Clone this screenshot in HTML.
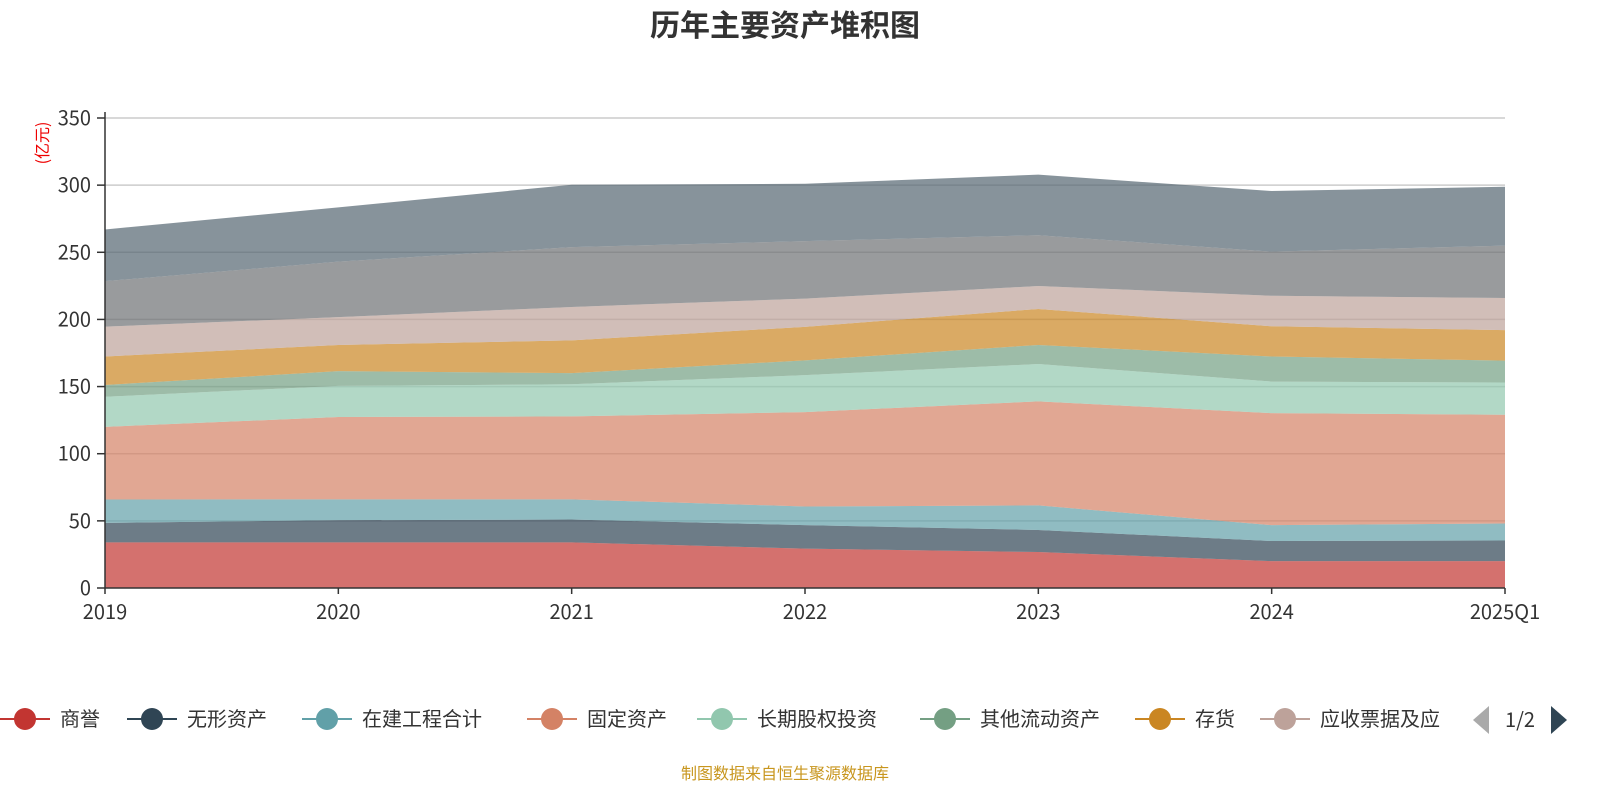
<!DOCTYPE html>
<html><head><meta charset="utf-8"><style>
body{margin:0;background:#fff;width:1600px;height:800px;overflow:hidden;font-family:"Liberation Sans","Noto Sans CJK SC",sans-serif;}
svg text{font-family:"Noto Sans CJK SC","Liberation Sans",sans-serif;}
</style></head><body>
<svg id="chart" width="1600" height="800" xmlns="http://www.w3.org/2000/svg">
<text x="785" y="36" text-anchor="middle" font-size="30" font-weight="bold" fill="#333">历年主要资产堆积图</text>
<text transform="translate(48,143) rotate(-90)" text-anchor="middle" font-size="16" fill="#e00">(亿元)</text>
<g id="grid"></g><g id="areas"></g><g id="axes"></g><g id="legend"></g>
<text x="785" y="779" text-anchor="middle" font-size="16" fill="#c8961e">制图数据来自恒生聚源数据库</text>
</svg>
<script>
const categories=["2019","2020","2021","2022","2023","2024","2025Q1"];
const seriesNames=["商誉","无形资产","在建工程合计","固定资产","长期股权投资","其他流动资产","存货","应收票据及应收账款","货币资金","其他资产"];
const s1=[34,34,34,29.3,26.8,20,20];
const s2=[14.5,16.5,17,17.5,16.4,15,15.4];
const s3=[17.4,15.5,15,13.9,18.3,11.8,12.6];
const s4=[54.1,61.3,61.8,70.3,77.5,83.4,81];
const s5=[22.4,23.2,23.9,27.5,27.8,23.5,24];
const s6=[8.8,11,8.3,11,14.2,18.7,16.3];
const s7=[21.2,19.5,24.4,25,26.8,22.5,22.7];
const s8=[22.2,20.7,24.9,21,17.1,22.7,24];
const s9=[33.9,41.3,44.5,42.8,37.8,32.9,39];
const s10=[38.5,40.4,46.5,42.7,45.1,45.1,43.8];
const yTicks=[0,50,100,150,200,250,300,350];
const series=[s1,s2,s3,s4,s5,s6,s7,s8,s9,s10];
const colors=["#c23531","#2f4554","#61a0a8","#d48265","#91c7ae","#749f83","#ca8622","#bda29a","#6e7074","#546570"];
const NS="http://www.w3.org/2000/svg";
const X0=105,X1=1505,Y0=588,YMAX=350,PH=470;
const xs=i=>X0+i*(X1-X0)/(categories.length-1);
const ys=v=>Y0-v/YMAX*PH;
function mk(t,a,p){const e=document.createElementNS(NS,t);for(const k in a)e.setAttribute(k,a[k]);p.appendChild(e);return e;}
const grid=document.getElementById('grid'),areas=document.getElementById('areas'),axes=document.getElementById('axes'),leg=document.getElementById('legend');
yTicks.forEach(v=>{
 if(v>0){const l=mk('line',{x1:X0,x2:X1,y1:ys(v),y2:ys(v),stroke:'#ccc','stroke-width':1.5},grid);
 
 }
 const t=mk('line',{x1:X0-8,x2:X0,y1:ys(v),y2:ys(v),stroke:'#333','stroke-width':1.5},axes);
 
 
 const tx=mk('text',{x:X0-14,y:ys(v)+7,'text-anchor':'end','font-size':20,fill:'#333'},axes);tx.textContent=v;
 
 
});
let base=categories.map(()=>0);
series.forEach((s,si)=>{
 const top=base.map((b,i)=>b+s[i]);
 let d='M'+categories.map((c,i)=>xs(i)+','+ys(top[i])).join('L');
 for(let i=categories.length-1;i>=0;i--)d+='L'+xs(i)+','+ys(base[i]);
 const p=mk('path',{d:d+'Z',fill:colors[si],'fill-opacity':0.7},areas);
 
 
 base=top;
});
const ya=mk('line',{x1:X0,x2:X0,y1:ys(350)-6,y2:Y0,stroke:'#333','stroke-width':1.5},axes);


const xa=mk('line',{x1:X0,x2:X1,y1:Y0,y2:Y0,stroke:'#333','stroke-width':1.5},axes);


categories.forEach((c,i)=>{
 const t=mk('line',{x1:xs(i),x2:xs(i),y1:Y0,y2:Y0+6,stroke:'#333','stroke-width':1.5},axes);
 
 
 const tx=mk('text',{x:xs(i),y:619,'text-anchor':'middle','font-size':20,fill:'#333'},axes);tx.textContent=c;
 
 
});
const legX=[25,152,327,552,722,945,1160,1285];
const legLabels=["商誉","无形资产","在建工程合计","固定资产","长期股权投资","其他流动资产","存货","应收票据及应"];
legX.forEach((cx,i)=>{
 const g=mk('g',{},leg);
 
 
 mk('line',{x1:cx-25,x2:cx+25,y1:719,y2:719,stroke:colors[i],'stroke-width':2},g);
 mk('circle',{cx:cx,cy:719,r:11,fill:colors[i]},g);
 const t=mk('text',{x:cx+35,y:726,'font-size':20,fill:'#333'},g);t.textContent=legLabels[i];
});
const pl=mk('path',{d:'M1489,706L1489,734L1473,720Z',fill:'#aaa'},leg);


const pt=mk('text',{x:1520,y:727,'text-anchor':'middle','font-size':20,fill:'#333'},leg);pt.textContent='1/2';


const pn=mk('path',{d:'M1551,706L1551,734L1567,720Z',fill:'#2f4554'},leg);


</script>
</body></html>
